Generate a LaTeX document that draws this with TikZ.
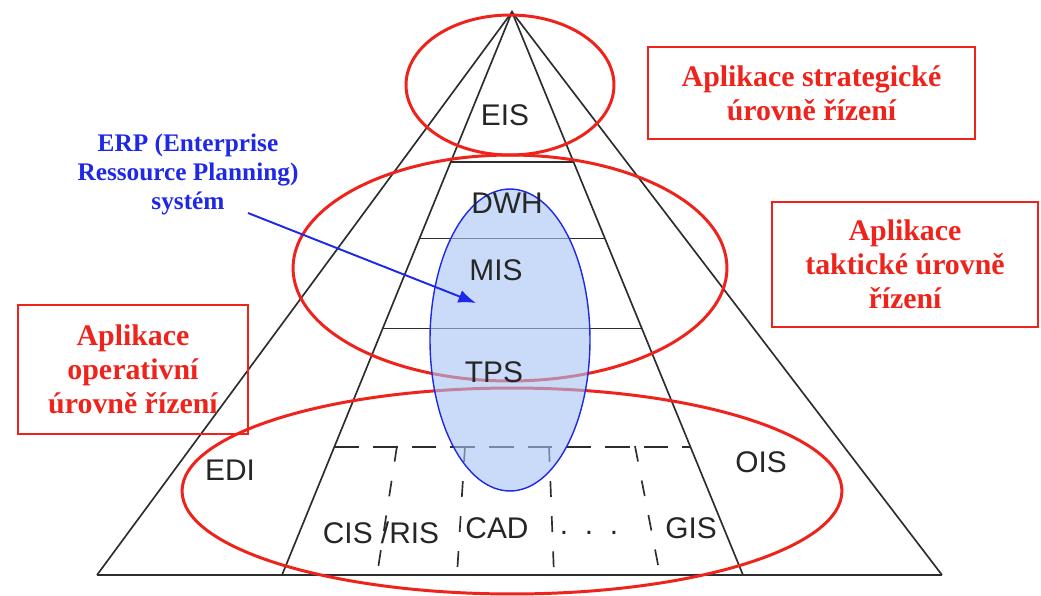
\documentclass[tikz,border=0pt]{standalone}
\usepackage{fontspec}
\setmainfont{Liberation Serif}
\setsansfont{Liberation Sans}
\usepackage{tikz}
\usetikzlibrary{arrows.meta,calc}
\definecolor{lvlred}{RGB}{238,35,28}
\definecolor{erpblue}{RGB}{30,40,230}
\definecolor{erpfill}{RGB}{165,195,245}
\definecolor{pyrgray}{RGB}{45,45,45}

\begin{document}
\begin{tikzpicture}[x=0.02cm,y=-0.02cm,
  pyr/.style={pyrgray, line width=0.95pt},
  lvl/.style={lvlred, line width=1.7pt},
  sys/.style={font=\sffamily\fontsize{17}{17}\selectfont, text=black!85, inner sep=0pt},
  lvlbox/.style={draw=lvlred, line width=1.4pt, text=lvlred, align=center,
    font=\bfseries\fontsize{17}{19.5}\selectfont, inner sep=0pt}]
  \useasboundingbox (0,0) rectangle (1041,595);
  % pyramid corners
  \coordinate (apex) at (512,12);
  \coordinate (bl) at (97,575);
  \coordinate (br) at (942,575);
  \coordinate (il) at (282,575);
  \coordinate (ir) at (743,575);
  % outer and inner edges
  \draw[pyr] (bl) -- (apex) -- (br);
  \draw[pyr] (il) -- (apex) -- (ir);
  \draw[pyr] (bl) -- (br);
  % level separators
  \foreach \t in {0.2669, 0.4021, 0.5623} {
    \draw[pyr] ($(apex)!\t!(il)$) -- ($(apex)!\t!(ir)$);
  }
  \draw[pyr, dash pattern=on 14pt off 8pt] ($(apex)!0.7722!(il)$) -- ($(apex)!0.7722!(ir)$);
  % dashed dividers of the bottom level
  \foreach \xt/\xb in {397/377, 465/457, 549/554, 635/660} {
    \draw[pyr, dash pattern=on 9pt off 11pt] (\xt,446) -- (\xb,575);
  }

  % management levels
  \draw[lvl] (510,85) ellipse [x radius=2.08cm, y radius=1.4cm];
  \draw[lvl] (510,268) ellipse [x radius=4.34cm, y radius=2.26cm];
  \draw[lvl] (512,491) ellipse [x radius=6.6cm, y radius=2.06cm];

  % ERP span
  \draw[erpblue, line width=0.8pt, fill=erpfill, fill opacity=0.6]
    (510,340) ellipse [x radius=1.6cm, y radius=3.02cm];

  % system labels
  \node[sys] (eis) at (505,115) {EIS};
  \node[sys] (dwh) at (507,203) {DWH};
  \node[sys] (mis) at (496,270) {MIS};
  \node[sys] (tps) at (494,372) {TPS};
  \node[sys] (edi) at (230,470) {EDI};
  \node[sys] (ois) at (761,462) {OIS};
  \node[sys] (cisris) at (381,533) {CIS /RIS};
  \node[sys] (cad) at (497,528) {CAD};
  \node[sys] (dots) at (589,533) {.\ \ .\ \ .};
  \node[sys] (gis) at (691,528) {GIS};

  % level boxes
  \node[lvlbox, minimum width=6.54cm, minimum height=1.84cm] (strat) at (811.5,93)
    {Aplikace strategické\\úrovně řízení};
  \node[lvlbox, minimum width=5.32cm, minimum height=2.5cm] (takt) at (905,264.5)
    {Aplikace\\taktické úrovně\\řízení};
  \node[lvlbox, minimum width=4.6cm, minimum height=2.58cm] (oper) at (133,369.5)
    {Aplikace\\operativní\\úrovně řízení};

  % ERP label and arrow
  \node[text=erpblue, align=center, font=\bfseries\fontsize{14.4}{16.5}\selectfont] (erp) at (188,174)
    {ERP (Enterprise\\Ressource Planning)\\systém};
  \coordinate (erpstart) at (248,213);
  \coordinate (erptip) at (476,303);
  \draw[erpblue, line width=1.1pt, -{Latex[length=10pt, width=7.5pt]}] (erpstart) -- (erptip);
\end{tikzpicture}
\end{document}
